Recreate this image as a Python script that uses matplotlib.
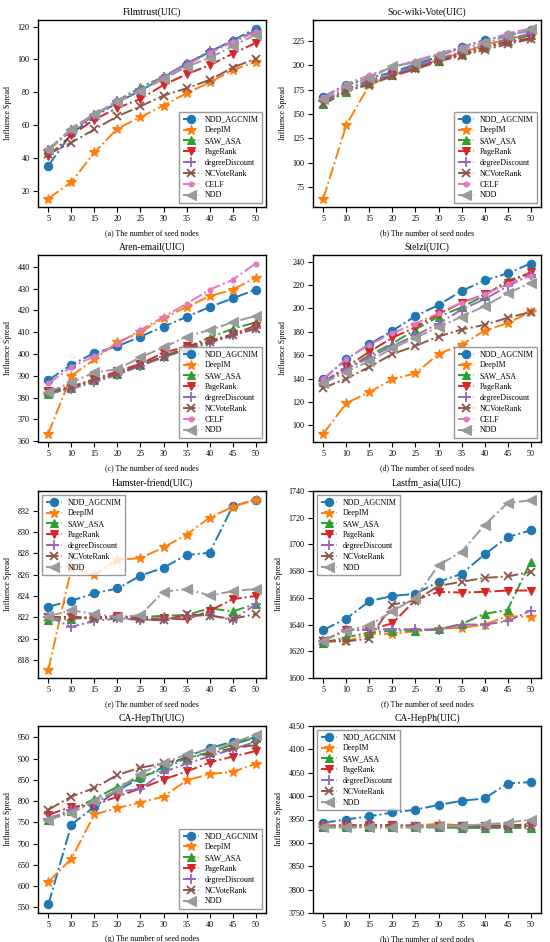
import matplotlib
matplotlib.use("Agg")
import matplotlib.pyplot as plt

plt.rcParams['font.family'] = ['Liberation Serif', 'DejaVu Serif']

x = [5, 10, 15, 20, 25, 30, 35, 40, 45, 50]

methods = ["NDD_AGCNIM", "DeepIM", "SAW_ASA", "PageRank", "degreeDiscount", "NCVoteRank", "CELF", "NDD"]
colors = {"NDD_AGCNIM": "#1f77b4", "DeepIM": "#ff7f0e", "SAW_ASA": "#2ca02c", "PageRank": "#d62728",
          "degreeDiscount": "#9467bd", "NCVoteRank": "#8c564b", "CELF": "#e377c2", "NDD": "#9a9a9a"}
markers = {"NDD_AGCNIM": "o", "DeepIM": "*", "SAW_ASA": "^", "PageRank": "v",
           "degreeDiscount": "+", "NCVoteRank": "x", "CELF": "o", "NDD": "<"}
msizes = {"NDD_AGCNIM": 6, "DeepIM": 7, "SAW_ASA": 6, "PageRank": 6,
          "degreeDiscount": 7, "NCVoteRank": 6, "CELF": 3.5, "NDD": 6.5}

# (a) Filmtrust
filmtrust = {
    "NDD_AGCNIM": [35.5, 55, 65, 74, 81, 89, 97.5, 104.5, 111.5, 118.8],
    "DeepIM": [15.5, 25.5, 43.5, 58, 65, 72, 79.5, 86, 93.5, 98.5],
    "SAW_ASA": [45, 57, 66, 75, 83, 89.5, 97, 104, 110.5, 117],
    "PageRank": [41.5, 54, 63.5, 70.5, 76, 84.5, 91, 96.5, 103.5, 110],
    "degreeDiscount": [45, 57, 66, 74.5, 82, 89.5, 97.5, 105, 111, 117.5],
    "NCVoteRank": [42.5, 49.5, 57.5, 65.5, 71.5, 78, 82.5, 87.5, 95, 100.5],
    "CELF": [45, 57.5, 66.5, 74.5, 81, 89, 96.5, 104, 110.5, 116.5],
    "NDD": [45.5, 58, 67, 74, 81, 88, 95.5, 101, 108, 115],
}
# (b) Soc-wiki-Vote
wikivote = {
    "NDD_AGCNIM": [168, 180, 187, 193, 201, 209, 219, 226, 231, 236],
    "DeepIM": [63, 139, 180, 190, 198, 206, 213, 221, 227, 232],
    "SAW_ASA": [160, 173, 182, 190, 198, 205, 212, 219, 225, 231],
    "PageRank": [163, 175, 185, 190, 197, 205, 211, 218, 224, 228],
    "degreeDiscount": [163, 176, 183, 191, 199, 207, 214, 221, 227, 233],
    "NCVoteRank": [160, 174, 180, 189, 196, 204, 210, 216, 222, 227],
    "CELF": [167, 181, 190, 198, 205, 212, 219, 225, 233, 238],
    "NDD": [165, 179, 187, 199, 203, 211, 217, 223, 230, 237],
}
# (c) Aren-email
arenemail = {
    "NDD_AGCNIM": [388, 395, 400.5, 403.5, 408, 412.5, 417, 421.5, 425.5, 429.5],
    "DeepIM": [363.5, 390, 397.5, 405.5, 410, 416.5, 421.5, 426.5, 429.5, 435],
    "SAW_ASA": [381.5, 384.5, 388, 391, 395, 399, 403, 407.5, 411.5, 414.5],
    "PageRank": [383, 385, 388.5, 392, 395.5, 400.5, 403.5, 406, 409, 413],
    "degreeDiscount": [382, 384, 387, 390.5, 394.5, 398.5, 402, 405, 408.5, 412],
    "NCVoteRank": [382.5, 384.5, 388, 391, 395, 398.5, 402.5, 405.5, 408.5, 411.5],
    "CELF": [386.5, 394, 399, 404.5, 411, 417, 423, 429.5, 434, 441.5],
    "NDD": [382.5, 387, 391.5, 393, 398.5, 403, 408, 411, 414.5, 417.5],
}
# (d) Stelzl
stelzl = {
    "NDD_AGCNIM": [139.5, 156.5, 169.5, 181, 193.5, 203, 215, 224, 230, 238.5],
    "DeepIM": [93, 119, 128.5, 139.5, 144.5, 161, 169, 181, 187.5, 197],
    "SAW_ASA": [137, 148, 160, 170, 182, 193, 201, 211, 224, 230],
    "PageRank": [137, 150, 163, 175, 184, 195, 205, 212, 222, 231],
    "degreeDiscount": [138, 148, 158, 168, 177, 187, 199, 208, 219, 229],
    "NCVoteRank": [132, 140, 150, 161, 168, 176, 182, 186, 192, 197],
    "CELF": [140, 157, 169, 179, 187, 196, 205, 212, 221, 228],
    "NDD": [136, 146, 155, 166, 175, 184, 193, 202, 213, 222],
}
# (e) Hamster-friend
hamster = {
    "NDD_AGCNIM": [823.0, 823.55, 824.25, 824.7, 825.9, 826.65, 827.85, 828.05, 832.4, 833.05],
    "DeepIM": [817.1, 826.6, 826.0, 827.4, 827.55, 828.55, 829.75, 831.35, 832.35, 833.05],
    "SAW_ASA": [821.75, 821.85, 822.0, 822.1, 822.0, 822.15, 822.2, 822.85, 822.55, 823.25],
    "PageRank": [822.0, 822.05, 821.95, 822.1, 821.85, 821.9, 821.8, 822.6, 823.7, 824.0],
    "degreeDiscount": [822.05, 821.1, 821.65, 821.9, 821.75, 821.8, 822.1, 822.2, 821.75, 823.2],
    "NCVoteRank": [822.0, 822.0, 821.85, 821.95, 821.8, 821.7, 822.3, 822.15, 821.85, 822.3],
    "NDD": [822.1, 822.65, 822.3, 822.0, 822.2, 824.4, 824.65, 824.05, 824.45, 824.65],
}
# (f) Lastfm_asia
lastfm = {
    "NDD_AGCNIM": [1636, 1644.5, 1657.5, 1661.5, 1663, 1672, 1678, 1692.5, 1705.5, 1710.5],
    "DeepIM": [1627, 1627.5, 1633, 1633, 1635, 1637, 1637.5, 1640, 1646.5, 1645.5],
    "SAW_ASA": [1626.5, 1630.5, 1634, 1635.5, 1635.5, 1636.5, 1640.5, 1648, 1651, 1687],
    "PageRank": [1628, 1636, 1636, 1641, 1658.5, 1664.5, 1664, 1664.5, 1665.5, 1665.5],
    "degreeDiscount": [1628, 1636, 1636.5, 1636.5, 1636.5, 1636, 1640, 1640, 1642.5, 1650.5],
    "NCVoteRank": [1628, 1627.5, 1629.5, 1655, 1658, 1669, 1672, 1675, 1676, 1679.5],
    "NDD": [1628, 1635.5, 1639.5, 1650, 1660, 1684.5, 1694.5, 1714.5, 1731, 1733],
}
# (g) CA-HepTh
hepth = {
    "NDD_AGCNIM": [557, 745, 787, 825, 855, 880, 905, 925, 940, 950],
    "DeepIM": [610, 665, 769, 784, 797, 811, 849, 864, 869, 888],
    "SAW_ASA": [755, 778, 806, 834, 856, 876, 902, 915, 933, 950],
    "PageRank": [768, 787, 791, 811, 830, 851, 870, 891, 905, 918],
    "degreeDiscount": [758, 780, 797, 822, 829, 869, 888, 906, 922, 940],
    "NCVoteRank": [780, 811, 831, 862, 879, 889, 902, 912, 925, 932],
    "NDD": [757, 772, 800, 827, 865, 890, 910, 922, 937, 957],
}
# (h) CA-HepPh
hepph = {
    "NDD_AGCNIM": [3943, 3950, 3957, 3965, 3971, 3981, 3990, 3995, 4027, 4030],
    "DeepIM": [3936, 3936, 3937, 3937, 3937, 3941, 3937, 3937, 3937, 3938],
    "SAW_ASA": [3933, 3933, 3933, 3933, 3933, 3933, 3932, 3932, 3932, 3932],
    "PageRank": [3937, 3938, 3938, 3938, 3937, 3936, 3937, 3937, 3937, 3940],
    "degreeDiscount": [3935, 3935, 3935, 3935, 3935, 3935, 3935, 3935, 3935, 3937],
    "NCVoteRank": [3935, 3936, 3935, 3936, 3936, 3936, 3936, 3936, 3936, 3936],
    "NDD": [3935, 3934, 3934, 3933, 3935, 3936, 3936, 3940, 3943, 3950],
}

panels = [
    ("Filmtrust(UIC)", "(a)", filmtrust, "lower right", None, None),
    ("Soc-wiki-Vote(UIC)", "(b)", wikivote, "lower right", None, [75, 100, 125, 150, 175, 200, 225]),
    ("Aren-email(UIC)", "(c)", arenemail, "lower right", None, None),
    ("Stelzl(UIC)", "(d)", stelzl, "lower right", None, None),
    ("Hamster-friend(UIC)", "(e)", hamster, "upper left", None, [818, 820, 822, 824, 826, 828, 830, 832]),
    ("Lastfm_asia(UIC)", "(f)", lastfm, "upper left", (1600, 1740), None),
    ("CA-HepTh(UIC)", "(g)", hepth, "lower right", None, None),
    ("CA-HepPh(UIC)", "(h)", hepph, "upper left", (3750, 4150), None),
]

fig = plt.figure(figsize=(5.5, 9.42), dpi=100)
H = 942.0
W = 550.0
col_left = [38, 313]
row_top = [20, 255, 491, 726]
ax_w = 228
ax_h = 187

for i, (title, tag, data, loc, ylim, yticks) in enumerate(panels):
    r, c = divmod(i, 2)
    ax = fig.add_axes([col_left[c] / W, 1 - (row_top[r] + ax_h) / H, ax_w / W, ax_h / H])
    for m in methods:
        if m not in data:
            continue
        ax.plot(x, data[m], linestyle='-.', color=colors[m], marker=markers[m],
                markersize=msizes[m], linewidth=1.4, label=m,
                markeredgewidth=1.3 if markers[m] in ['+', 'x'] else 0.8)
    ax.set_title(title, fontsize=6.9, pad=4)
    ax.set_xlabel(tag + " The number of seed nodes", fontsize=5.7, labelpad=4)
    ax.set_ylabel("Influence Spread", fontsize=5.7, labelpad=4)
    ax.set_xticks(x)
    if ylim is not None:
        ax.set_ylim(*ylim)
    if yticks is not None:
        ax.set_yticks(yticks)
    ax.tick_params(labelsize=5.9, length=3.5, width=0.8, pad=2.5)
    for s in ax.spines.values():
        s.set_linewidth(1.0)
    ax.legend(loc=loc, fontsize=5.8, handlelength=2.0, labelspacing=0.35,
              borderpad=0.45, framealpha=0.8, edgecolor='0.5', fancybox=False,
              handletextpad=0.7, borderaxespad=0.5)

fig.savefig("out.png", dpi=100)
